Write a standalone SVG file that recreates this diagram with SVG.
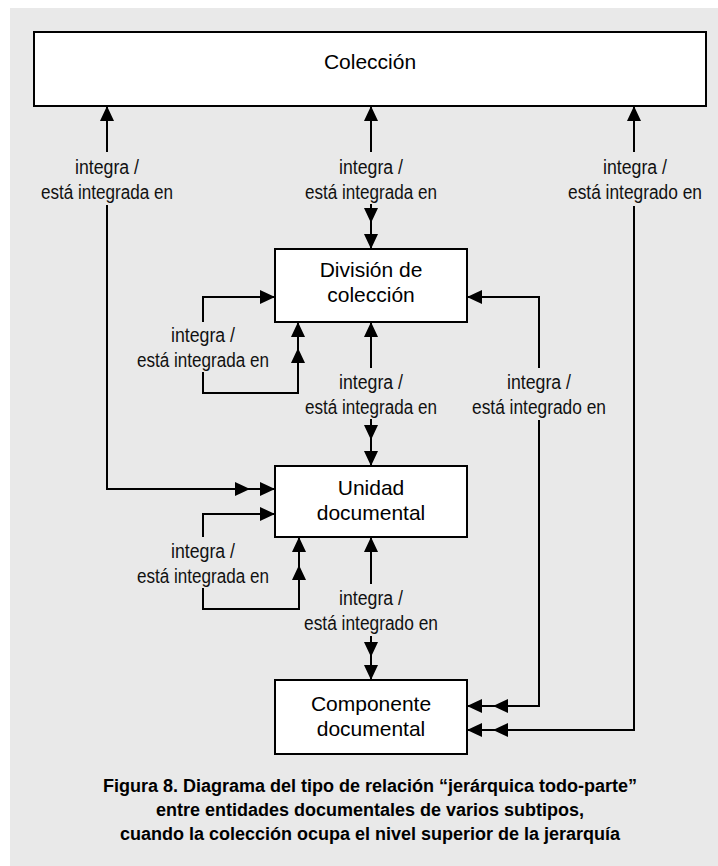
<svg xmlns="http://www.w3.org/2000/svg" width="718" height="866" viewBox="0 0 718 866">
<style>
.bg{fill:#e9e9e9}
.box{fill:#ffffff;stroke:#000;stroke-width:2}
.nt{font-family:"Liberation Sans",Arial,sans-serif;font-size:21px;fill:#000;text-anchor:middle}
.lb{font-family:"Liberation Sans",Arial,sans-serif;font-size:20px;fill:#111;text-anchor:middle}
.cap{font-family:"Liberation Sans",Arial,sans-serif;font-size:18px;font-weight:bold;fill:#000;text-anchor:middle}
.ln{fill:none;stroke:#000;stroke-width:2;marker-end:url(#ah)}
</style>
<defs>
<marker id="ah" markerUnits="userSpaceOnUse" markerWidth="15" markerHeight="14" viewBox="0 0 15 14" refX="15" refY="7" orient="auto">
<path d="M0,0 L15,7 L0,14 z" fill="#000"/>
</marker>
</defs>
<rect class="bg" x="10" y="8" width="708" height="858"/>

<g id="connectors">
<path class="ln" d="M107,152 V106"/>
<path class="ln" d="M107,205 V489 H250"/>
<path class="ln" d="M250,489 H275"/>
<path class="ln" d="M371,152 V106"/>
<path class="ln" d="M371,204 V223"/>
<path class="ln" d="M371,223 V249"/>
<path class="ln" d="M634,152 V106"/>
<path class="ln" d="M634,206 V730 H493"/>
<path class="ln" d="M493,730 H467"/>
<path class="ln" d="M203,322 V297 H275"/>
<path class="ln" d="M203,372 V393 H298 V348"/>
<path class="ln" d="M298,348 V322"/>
<path class="ln" d="M371,368 V322"/>
<path class="ln" d="M371,419 V440"/>
<path class="ln" d="M371,440 V466"/>
<path class="ln" d="M539,368 V297 H467"/>
<path class="ln" d="M539,420 V706 H493"/>
<path class="ln" d="M493,706 H467"/>
<path class="ln" d="M203,537 V514 H275"/>
<path class="ln" d="M203,588 V609 H299 V565"/>
<path class="ln" d="M299,565 V537"/>
<path class="ln" d="M371,584 V537"/>
<path class="ln" d="M371,636 V657"/>
<path class="ln" d="M371,657 V680"/>
</g>

<g id="labels">
<text class="lb" x="107" y="174" textLength="64" lengthAdjust="spacingAndGlyphs">integra /</text>
<text class="lb" x="107" y="199" textLength="132" lengthAdjust="spacingAndGlyphs">está integrada en</text>
<text class="lb" x="371" y="174" textLength="64" lengthAdjust="spacingAndGlyphs">integra /</text>
<text class="lb" x="371" y="199" textLength="132" lengthAdjust="spacingAndGlyphs">está integrada en</text>
<text class="lb" x="635" y="174" textLength="64" lengthAdjust="spacingAndGlyphs">integra /</text>
<text class="lb" x="635" y="199" textLength="134" lengthAdjust="spacingAndGlyphs">está integrado en</text>
<text class="lb" x="203" y="342" textLength="64" lengthAdjust="spacingAndGlyphs">integra /</text>
<text class="lb" x="203" y="367" textLength="132" lengthAdjust="spacingAndGlyphs">está integrada en</text>
<text class="lb" x="371" y="389" textLength="64" lengthAdjust="spacingAndGlyphs">integra /</text>
<text class="lb" x="371" y="414" textLength="132" lengthAdjust="spacingAndGlyphs">está integrada en</text>
<text class="lb" x="539" y="389" textLength="64" lengthAdjust="spacingAndGlyphs">integra /</text>
<text class="lb" x="539" y="414" textLength="134" lengthAdjust="spacingAndGlyphs">está integrado en</text>
<text class="lb" x="203" y="558" textLength="64" lengthAdjust="spacingAndGlyphs">integra /</text>
<text class="lb" x="203" y="583" textLength="132" lengthAdjust="spacingAndGlyphs">está integrada en</text>
<text class="lb" x="371" y="605" textLength="64" lengthAdjust="spacingAndGlyphs">integra /</text>
<text class="lb" x="371" y="630" textLength="134" lengthAdjust="spacingAndGlyphs">está integrado en</text>
</g>

<g id="coleccion">
<rect class="box" x="34" y="32" width="672" height="74"/>
<text class="nt" x="370" y="69">Colección</text>
</g>
<g id="division">
<rect class="box" x="275" y="249" width="192" height="73"/>
<text class="nt" x="371" y="277">División de</text>
<text class="nt" x="371" y="302">colección</text>
</g>
<g id="unidad">
<rect class="box" x="275" y="466" width="192" height="71"/>
<text class="nt" x="371" y="495">Unidad</text>
<text class="nt" x="371" y="520">documental</text>
</g>
<g id="componente">
<rect class="box" x="275" y="680" width="192" height="74"/>
<text class="nt" x="371" y="711">Componente</text>
<text class="nt" x="371" y="736">documental</text>
</g>

<g id="caption">
<text class="cap" x="370" y="792">Figura 8. Diagrama del tipo de relación “jerárquica todo-parte”</text>
<text class="cap" x="370" y="816">entre entidades documentales de varios subtipos,</text>
<text class="cap" x="370" y="840">cuando la colección ocupa el nivel superior de la jerarquía</text>
</g>
</svg>
